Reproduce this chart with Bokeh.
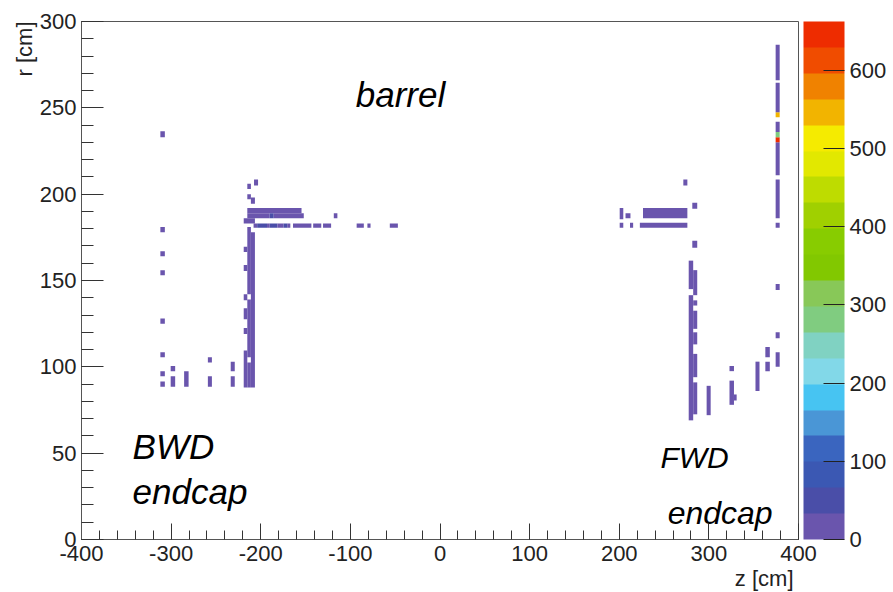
import math
from bokeh.plotting import figure
from bokeh.models import ColumnDataSource, LinearColorMapper, ColorBar, FixedTicker, Label, Title
from bokeh.embed import file_html
from bokeh.resources import INLINE

# ---- data: 2D histogram cells (runs of bins): z range, r range, entries ----
cell_z0 = [-312, -312, -312, -312, -312, -312, -312, -312,
           -300.5, -300.5, -285.5, -259, -259, -233.5, -233.5,
           -211, -215, -215, -215,
           -219, -219, -219, -219, -219, -219,
           -215, -215, -207.5, -211,
           -215, -215, -190, -185.5, -118.5, -219,
           -208, -204, -193, -190, -181.5, -174.5, -170.5, -164, -141.5, -130.5, -93, -81, -56,
           271.5, 281.5, 200.5, 207, 226.5, 200.5, 212, 223, 281.5,
           277.5, 277.5,
           282.5, 282.5, 282.5, 282.5, 282.5, 282.5,
           297.5, 323, 323, 328, 352, 363, 363,
           374.5, 374.5, 374.5, 374.5, 374.5, 374.5, 374.5, 374.5, 374.5, 374.5, 374.5, 374.5]
cell_z1 = [-307, -307, -307, -307, -307, -307, -307, -307,
           -295.5, -295.5, -280.5, -254.5, -254.5, -229, -229,
           -206.5, -211, -211, -211,
           -215, -215, -215, -215, -215, -215,
           -211, -211, -203, -206.5,
           -154.5, -190, -185.5, -152, -114.5, -206.5,
           -204, -193, -190, -181.5, -174.5, -170.5, -167, -143.5, -132.5, -121.5, -85, -77.5, -47,
           276, 287, 204.5, 212.5, 276, 204.5, 215.5, 276, 287,
           282.5, 282.5,
           287, 287, 287, 287, 287, 287,
           302, 328, 328, 331, 356.5, 368, 368,
           379, 379, 379, 379, 379, 379, 379, 379, 379, 379, 379, 379]
cell_r0 = [233, 178, 164, 153, 125, 105.5, 94.5, 88.5,
           97.5, 88.5, 88.5, 102.5, 88.5, 97.5, 88.5,
           88, 88, 105.5, 142,
           88, 119, 127.5, 138.5, 155.5, 166.5,
           197, 203, 205, 194.5,
           189, 186, 186, 186, 186, 183,
           180.5, 180.5, 180.5, 180.5, 180.5, 180.5, 180.5, 180.5, 180.5, 180.5, 180.5, 180.5, 180.5,
           205, 191.5, 185.5, 186, 186, 180.5, 180.5, 180.5, 169,
           69, 145,
           72.5, 94, 113, 122, 135.5, 141.5,
           72, 97.5, 78, 80.5, 86, 105.5, 97.5,
           100, 116.5, 144.5, 180.5, 186, 211, 230, 233, 236, 244.5, 247.5, 266]
cell_r1 = [236.5, 181, 167, 156, 128, 108.5, 97.5, 91.5,
           100.5, 94.5, 97.5, 105.5, 94.5, 103, 94.5,
           178, 102.5, 139, 181,
           109.5, 122.5, 134, 142, 159, 169.5,
           200, 206, 208.5, 198,
           192, 189, 189, 189, 189, 186,
           183, 183, 183, 183, 183, 183, 183, 183, 183, 183, 183, 183, 183,
           208.5, 195, 192, 189, 192, 183.5, 183.5, 183.5, 173,
           141.5, 161.5,
           91, 107.5, 120, 132.5, 138.5, 156,
           89, 100.5, 92, 84, 103, 111.5, 103,
           108.5, 120, 148, 183.5, 208.5, 230, 233, 236, 242, 247.5, 264.5, 286.5]
cell_count = [20] * 35
cell_count[31] = 50
cell_count += [20, 55, 20, 55, 20, 55, 20, 20, 20, 20, 20, 20, 20]
cell_count += [20] * 9 + [20] * 2 + [20] * 6 + [20] * 7
cell_count += [20, 20, 20, 20, 20, 20, 650, 280, 20, 545, 20, 20]

x_ticks = [-400, -300, -200, -100, 0, 100, 200, 300, 400]
y_ticks = [0, 50, 100, 150, 200, 250, 300]
z_ticks = [0, 100, 200, 300, 400, 500, 600]
z_max = 662

palette = ["#6A55AD", "#4A4EA8", "#3B58B3", "#3A65BF", "#4A96D6",
           "#47C4F2", "#82D8E8", "#80D2C2", "#80CC80", "#88C858",
           "#82C800", "#88CC00", "#A0D000", "#BEDC00", "#E2E800",
           "#F5EB00", "#F2B400", "#F08200", "#F04C00", "#EE2C00"]

src = ColumnDataSource(dict(z0=cell_z0, z1=cell_z1, r0=cell_r0, r1=cell_r1, n=cell_count))
mapper = LinearColorMapper(palette=palette, low=0, high=z_max)

p = figure(width=893, height=592, x_range=(-400, 400), y_range=(0, 300),
           output_backend="svg", toolbar_location=None,
           min_border_left=81, min_border_right=95, min_border_top=21, min_border_bottom=53)
p.xgrid.visible = False
p.ygrid.visible = False
p.outline_line_color = "#555555"
p.background_fill_color = "white"
p.border_fill_color = "white"

p.quad(left="z0", right="z1", bottom="r0", top="r1", source=src,
       fill_color={"field": "n", "transform": mapper}, line_color=None)

FONT = "Liberation Sans"
for ax, ticks, minor, tin, tmin in [
        (p.xaxis[0], x_ticks, list(range(-400, 401, 20)), 16, 9),
        (p.yaxis[0], y_ticks, list(range(0, 301, 10)), 22, 12)]:
    ax.ticker = FixedTicker(ticks=ticks, minor_ticks=minor)
    ax.major_label_overrides = {t: str(t) for t in ticks}
    ax.major_tick_in = tin
    ax.major_tick_out = 0
    ax.minor_tick_in = tmin
    ax.minor_tick_out = 0
    ax.axis_line_color = "#555555"
    ax.major_tick_line_color = "#333333"
    ax.minor_tick_line_color = "#333333"
    ax.major_label_text_font = FONT
    ax.major_label_text_font_size = "22px"
    ax.major_label_text_color = "#222222"
p.xaxis.major_label_standoff = 6
p.yaxis.major_label_standoff = 5

cb = ColorBar(color_mapper=mapper, ticker=FixedTicker(ticks=z_ticks), width=41,
              padding=0, margin=0, location=(5, 0), major_tick_in=21, major_tick_out=0,
              major_tick_line_color="#222222", minor_tick_line_color=None,
              bar_line_color=None, border_line_color=None, background_fill_alpha=0,
              label_standoff=5, major_label_text_font=FONT,
              major_label_text_font_size="22px", major_label_text_color="#222222")
p.add_layout(cb, "right")

p.add_layout(Title(text="z [cm]", align="right", text_font=FONT, text_font_size="22px",
                   text_font_style="normal", text_color="#222222", standoff=0, offset=5),
             "below")
p.add_layout(Title(text="r [cm]", align="right", text_font=FONT, text_font_size="22px",
                   text_font_style="normal", text_color="#222222", standoff=0, offset=0),
             "left")

def lab(text, x, y, size, **kw):
    kw.setdefault("text_color", "black")
    p.add_layout(Label(x=x, y=y, text=text, text_font=FONT, text_font_size=size, **kw))

lab("barrel", -94, 246.5, "35px", text_font_style="italic")
lab("BWD", -343, 42.7, "35px", text_font_style="italic")
lab("endcap", -343, 16.6, "35px", text_font_style="italic")
lab("FWD", 246, 38, "30px", text_font_style="italic")
lab("endcap", 254, 5, "32px", text_font_style="italic")

open("out.html", "w").write(file_html(p, INLINE))
